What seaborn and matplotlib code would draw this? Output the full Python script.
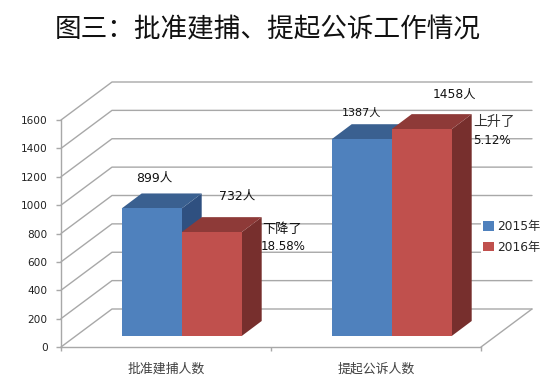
import pandas as pd
import seaborn as sns
import matplotlib
matplotlib.use('Agg')
import matplotlib.pyplot as plt
from matplotlib.patches import Polygon

# chart data
categories = ['批准建捕人数', '提起公诉人数']
years = ['2015年', '2016年']
values_2015 = [899, 1387]
values_2016 = [732, 1458]
change_labels = [['下降了', '18.58%'], ['上升了', '5.12%']]
y_ticks = [0, 200, 400, 600, 800, 1000, 1200, 1400, 1600]

W, H = 548, 388
BLUE, RED = '#4f81bd', '#c0504d'
TOP_COLORS = ['#3a6090', '#8e3a38']
SIDE_COLORS = ['#2f5080', '#772f2d']
GRID = '#a8a8a8'
# fake 3D depth, in data units (210 px per category, 227 px per 1600)
WALL_DX, WALL_DY = 51 / 210, 38 * 1600 / 227
BAR_DX, BAR_DY = 20 / 210, 15 * 1600 / 227

sns.set_style('white')
plt.rcParams['font.family'] = ['DejaVu Sans', 'Noto Sans CJK SC']


def px_axes(fig, left, right, top, bottom):
    """axes placed with image pixel coordinates (y counted from the top)"""
    return fig.add_axes([left / W, 1 - bottom / H, (right - left) / W, (bottom - top) / H])


def px_text(fig, x, y, s, **kw):
    kw.setdefault('ha', 'center')
    fig.text(x / W, 1 - y / H, s, va='center', **kw)


fig = plt.figure(figsize=(W / 100, H / 100), dpi=100)

# walls and axes
ax_wall = px_axes(fig, 61, 481, 120, 347)
ax_wall.set_xlim(-0.5, 1.5)
ax_wall.set_ylim(0, 1600)
ax_wall.set_yticks(y_ticks)
ax_wall.set_xticks([-0.5, 0.5, 1.5])
ax_wall.set_xticklabels([])
ax_wall.set_xticks([0, 1], labels=categories, minor=True)
ax_wall.tick_params(axis='y', length=3.5, width=1, color=GRID, labelsize=7.6, labelcolor='#222222', pad=6, left=True)
ax_wall.tick_params(axis='x', which='major', length=3, width=1, color=GRID, bottom=True)
ax_wall.tick_params(axis='x', which='minor', length=0, labelsize=9.3, labelcolor='#404040', pad=11)
sns.despine(ax=ax_wall)
for side in ['left', 'bottom']:
    ax_wall.spines[side].set_color(GRID)
    ax_wall.spines[side].set_linewidth(1)
for v in y_ticks:
    ax_wall.plot([-0.5, -0.5 + WALL_DX, 1.5 + WALL_DX], [v, v + WALL_DY, v + WALL_DY],
                 color=GRID, lw=1, clip_on=False, zorder=1)
ax_wall.plot([1.5, 1.5 + WALL_DX], [0, WALL_DY], color=GRID, lw=1, clip_on=False, zorder=1)

# bars
df = pd.DataFrame({
    'category': categories * 2,
    'year': [years[0]] * 2 + [years[1]] * 2,
    'value': values_2015 + values_2016,
})
ax = px_axes(fig, 76.7, 496.7, 109, 336)
ax.patch.set_alpha(0)
sns.barplot(data=df, x='category', y='value', hue='year', palette=[BLUE, RED],
            width=120 / 210, gap=0, saturation=1, linewidth=0, ax=ax)
ax.set_xlim(-0.5, 1.5)
ax.set_ylim(0, 1600)

# top and side faces built from the bars
for c, container in enumerate(ax.containers):
    for bar in container:
        x0, x1, h = bar.get_x(), bar.get_x() + bar.get_width(), bar.get_height()
        ax.add_patch(Polygon([(x1, 0), (x1 + BAR_DX, BAR_DY), (x1 + BAR_DX, h + BAR_DY), (x1, h)],
                             fc=SIDE_COLORS[c], ec='none', clip_on=False, zorder=2 + c))
        ax.add_patch(Polygon([(x0, h), (x0 + BAR_DX, h + BAR_DY), (x1 + BAR_DX, h + BAR_DY), (x1, h)],
                             fc=TOP_COLORS[c], ec='none', clip_on=False, zorder=2 + c))
        bar.set_zorder(5)

handles, labels = ax.get_legend_handles_labels()
ax.get_legend().remove()
ax.axis('off')
leg = fig.legend(handles, labels, loc='center left', bbox_to_anchor=(481 / W, 1 - 237 / H), frameon=True,
                 facecolor='white', edgecolor='none', framealpha=1, fontsize=8.8, handlelength=0.85,
                 handleheight=0.85, handletextpad=0.3, labelspacing=0.6, borderpad=0.2, borderaxespad=0)

# text
px_text(fig, 267.5, 30, '图三：批准建捕、提起公诉工作情况', fontsize=19.2, color='#111111',
        family=['Noto Sans CJK SC', 'DejaVu Sans'])
px_text(fig, 154, 178, f'{values_2015[0]}人', fontsize=9, color='#111111')
px_text(fig, 237, 196, f'{values_2016[0]}人', fontsize=9, color='#111111')
px_text(fig, 362, 113, f'{values_2015[1]}人', fontsize=8, color='#111111')
px_text(fig, 454, 94, f'{values_2016[1]}人', fontsize=8.8, color='#111111')
px_text(fig, 262, 230, change_labels[0][0], ha='left', fontsize=9.5, color='#111111')
px_text(fig, 261, 247, change_labels[0][1], ha='left', fontsize=8.6, color='#111111')
px_text(fig, 473, 122, change_labels[1][0], ha='left', fontsize=10, color='#333333')
px_text(fig, 473, 140, change_labels[1][1], ha='left', fontsize=8.6, color='#111111')

fig.savefig('out.png', dpi=100)
